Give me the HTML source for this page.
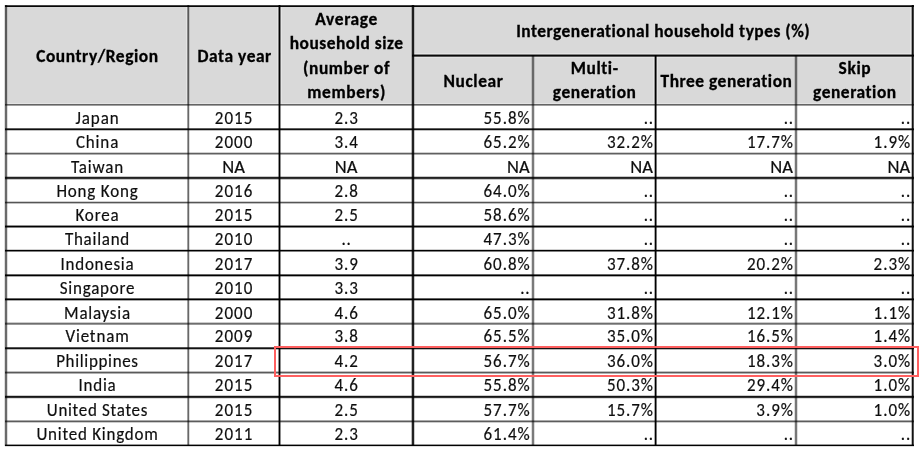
<!DOCTYPE html>
<html><head><meta charset="utf-8"><title>Intergenerational household types</title>
<style>
html,body{margin:0;padding:0;background:#fff;}
body{width:919px;height:453px;overflow:hidden;position:relative;}
svg{position:absolute;left:0;top:0;display:block;}
text{font-family:Carlito, 'Liberation Sans', sans-serif;font-size:18.5px;fill:#111;stroke:#111;stroke-width:0.2px;font-variant-ligatures:none;font-feature-settings:'liga' 0,'clig' 0;}
.b{font-weight:bold;fill:#000;stroke:#000;stroke-width:0.32px;}
.m{text-anchor:middle;}
.e{text-anchor:end;}
</style></head><body>
<svg width="919" height="453" viewBox="0 0 919 453">
<rect x="5" y="5" width="909" height="99" fill="#d9d9d9"/>

<rect x="7" y="7" width="1" height="96" fill="#fff" fill-opacity="0.3"/>
<rect x="186" y="7" width="1" height="96" fill="#fff" fill-opacity="0.3"/>
<rect x="277" y="7" width="1" height="96" fill="#fff" fill-opacity="0.3"/>
<rect x="281" y="7" width="1" height="96" fill="#fff" fill-opacity="0.3"/>
<rect x="411" y="7" width="1" height="96" fill="#fff" fill-opacity="0.3"/>
<rect x="414" y="7" width="1" height="96" fill="#fff" fill-opacity="0.3"/>
<rect x="653" y="57" width="1" height="46" fill="#fff" fill-opacity="0.3"/>
<rect x="657" y="57" width="1" height="46" fill="#fff" fill-opacity="0.3"/>
<rect x="910" y="7" width="1" height="96" fill="#fff" fill-opacity="0.3"/>
<rect x="414" y="53" width="497" height="1" fill="#fff" fill-opacity="0.3"/>
<rect x="414" y="57" width="497" height="1" fill="#fff" fill-opacity="0.3"/>
<rect x="7" y="103" width="904" height="1" fill="#fff" fill-opacity="0.3"/>
<rect x="5" y="5" width="909" height="1" fill-opacity="0.686"/>
<rect x="5" y="6" width="909" height="1" fill-opacity="0.969"/>
<rect x="412" y="54" width="502" height="1" fill-opacity="0.400"/>
<rect x="412" y="55" width="502" height="1" fill-opacity="0.961"/>
<rect x="412" y="56" width="502" height="1" fill-opacity="0.600"/>
<rect x="5" y="104" width="909" height="1" fill-opacity="0.608"/>
<rect x="5" y="105" width="909" height="1" fill-opacity="0.373"/>
<rect x="5" y="128" width="909" height="1" fill-opacity="0.624"/>
<rect x="5" y="129" width="909" height="1" fill-opacity="0.949"/>
<rect x="5" y="130" width="909" height="1" fill-opacity="0.247"/>
<rect x="5" y="152" width="909" height="1" fill-opacity="0.184"/>
<rect x="5" y="153" width="909" height="1" fill-opacity="0.624"/>
<rect x="5" y="154" width="909" height="1" fill-opacity="0.310"/>
<rect x="5" y="176" width="909" height="1" fill-opacity="0.216"/>
<rect x="5" y="177" width="909" height="1" fill-opacity="0.867"/>
<rect x="5" y="178" width="909" height="1" fill-opacity="0.800"/>
<rect x="5" y="179" width="909" height="1" fill-opacity="0.216"/>
<rect x="5" y="201" width="909" height="1" fill-opacity="0.184"/>
<rect x="5" y="202" width="909" height="1" fill-opacity="0.667"/>
<rect x="5" y="203" width="909" height="1" fill-opacity="0.247"/>
<rect x="5" y="225" width="909" height="1" fill-opacity="0.435"/>
<rect x="5" y="226" width="909" height="1" fill-opacity="1.000"/>
<rect x="5" y="227" width="909" height="1" fill-opacity="0.498"/>
<rect x="5" y="249" width="909" height="1" fill-opacity="0.184"/>
<rect x="5" y="250" width="909" height="1" fill-opacity="1.000"/>
<rect x="5" y="251" width="909" height="1" fill-opacity="0.498"/>
<rect x="5" y="274" width="909" height="1" fill-opacity="0.600"/>
<rect x="5" y="275" width="909" height="1" fill-opacity="1.000"/>
<rect x="5" y="276" width="909" height="1" fill-opacity="0.333"/>
<rect x="5" y="298" width="909" height="1" fill-opacity="0.600"/>
<rect x="5" y="299" width="909" height="1" fill-opacity="1.000"/>
<rect x="5" y="300" width="909" height="1" fill-opacity="0.333"/>
<rect x="5" y="322" width="909" height="1" fill-opacity="0.200"/>
<rect x="5" y="323" width="909" height="1" fill-opacity="0.569"/>
<rect x="5" y="324" width="909" height="1" fill-opacity="0.400"/>
<rect x="5" y="347" width="909" height="1" fill-opacity="0.667"/>
<rect x="5" y="348" width="909" height="1" fill-opacity="0.929"/>
<rect x="5" y="349" width="909" height="1" fill-opacity="0.267"/>
<rect x="5" y="371" width="909" height="1" fill-opacity="0.247"/>
<rect x="5" y="372" width="909" height="1" fill-opacity="0.647"/>
<rect x="5" y="373" width="909" height="1" fill-opacity="0.310"/>
<rect x="5" y="395" width="909" height="1" fill-opacity="0.200"/>
<rect x="5" y="396" width="909" height="1" fill-opacity="0.914"/>
<rect x="5" y="397" width="909" height="1" fill-opacity="0.800"/>
<rect x="5" y="398" width="909" height="1" fill-opacity="0.137"/>
<rect x="5" y="420" width="909" height="1" fill-opacity="0.333"/>
<rect x="5" y="421" width="909" height="1" fill-opacity="0.639"/>
<rect x="5" y="422" width="909" height="1" fill-opacity="0.200"/>
<rect x="5" y="444" width="909" height="1" fill-opacity="0.400"/>
<rect x="5" y="445" width="909" height="1" fill-opacity="1.000"/>
<rect x="5" y="446" width="909" height="1" fill-opacity="0.133"/>
<rect x="4" y="5" width="1" height="441" fill-opacity="0.133"/>
<rect x="5" y="5" width="1" height="441" fill-opacity="0.584"/>
<rect x="6" y="5" width="1" height="441" fill-opacity="0.584"/>
<rect x="7" y="5" width="1" height="441" fill-opacity="0.133"/>
<rect x="187" y="5" width="1" height="441" fill-opacity="0.373"/>
<rect x="188" y="5" width="1" height="441" fill-opacity="0.592"/>
<rect x="189" y="5" width="1" height="441" fill-opacity="0.133"/>
<rect x="278" y="5" width="1" height="441" fill-opacity="0.435"/>
<rect x="279" y="5" width="1" height="441" fill-opacity="1.000"/>
<rect x="280" y="5" width="1" height="441" fill-opacity="0.435"/>
<rect x="411" y="5" width="1" height="441" fill-opacity="0.267"/>
<rect x="412" y="5" width="1" height="441" fill-opacity="0.867"/>
<rect x="413" y="5" width="1" height="441" fill-opacity="0.867"/>
<rect x="414" y="5" width="1" height="441" fill-opacity="0.200"/>
<rect x="531" y="55" width="1" height="391" fill-opacity="0.133"/>
<rect x="532" y="55" width="1" height="391" fill-opacity="0.522"/>
<rect x="533" y="55" width="1" height="391" fill-opacity="0.522"/>
<rect x="534" y="55" width="1" height="391" fill-opacity="0.133"/>
<rect x="654" y="55" width="1" height="391" fill-opacity="0.333"/>
<rect x="655" y="55" width="1" height="391" fill-opacity="1.000"/>
<rect x="656" y="55" width="1" height="391" fill-opacity="0.533"/>
<rect x="794" y="55" width="1" height="391" fill-opacity="0.133"/>
<rect x="795" y="55" width="1" height="391" fill-opacity="0.533"/>
<rect x="796" y="55" width="1" height="391" fill-opacity="0.533"/>
<rect x="797" y="55" width="1" height="391" fill-opacity="0.133"/>
<rect x="911" y="5" width="1" height="441" fill-opacity="0.267"/>
<rect x="912" y="5" width="1" height="441" fill-opacity="0.933"/>
<rect x="913" y="5" width="1" height="441" fill-opacity="0.667"/>
<defs><filter id="soft" x="-5%" y="-20%" width="110%" height="140%"><feGaussianBlur stdDeviation="0.3"/></filter></defs>
<g filter="url(#soft)">
<text x="103.298" y="61.9" transform="scale(0.94,1)" class="b m" textLength="129.64" lengthAdjust="spacing">Country/Region</text>
<text x="249.362" y="61.7" transform="scale(0.94,1)" class="b m" textLength="78.46" lengthAdjust="spacing">Data year</text>
<text x="368.404" y="25.5" transform="scale(0.94,1)" class="b m" textLength="65.79" lengthAdjust="spacing">Average</text>
<text x="368.404" y="49.3" transform="scale(0.94,1)" class="b m" textLength="120.51" lengthAdjust="spacing">household size</text>
<text x="368.404" y="73.9" transform="scale(0.94,1)" class="b m" textLength="91.99" lengthAdjust="spacing">(number of</text>
<text x="368.404" y="98.3" transform="scale(0.94,1)" class="b m" textLength="83.15" lengthAdjust="spacing">members)</text>
<text x="705.319" y="37.1" transform="scale(0.94,1)" class="b m" textLength="312.26" lengthAdjust="spacing">Intergenerational household types (%)</text>
<text x="503.404" y="87.1" transform="scale(0.94,1)" class="b m" textLength="63.21" lengthAdjust="spacing">Nuclear</text>
<text x="632.34" y="74.3" transform="scale(0.94,1)" class="b m" textLength="50.29" lengthAdjust="spacing">Multi-</text>
<text x="632.34" y="98.2" transform="scale(0.94,1)" class="b m" textLength="88.39" lengthAdjust="spacing">generation</text>
<text x="772.553" y="87.3" transform="scale(0.94,1)" class="b m" textLength="139.74" lengthAdjust="spacing">Three generation</text>
<text x="909.149" y="74.2" transform="scale(0.94,1)" class="b m" textLength="34.16" lengthAdjust="spacing">Skip</text>
<text x="909.149" y="98.1" transform="scale(0.94,1)" class="b m" textLength="88.39" lengthAdjust="spacing">generation</text>
<text x="105.543" y="124.0" transform="scale(0.92,1)" class="m" textLength="46.8" lengthAdjust="spacing">Japan</text>
<text x="253.913" y="124.0" transform="scale(0.92,1)" class="m" textLength="40.78" lengthAdjust="spacing">2015</text>
<text x="376.304" y="124.0" transform="scale(0.92,1)" class="m" textLength="25.48" lengthAdjust="spacing">2.3</text>
<text x="575.652" y="124.0" transform="scale(0.92,1)" class="e" textLength="50.03" lengthAdjust="spacing">55.8%</text>
<text x="709.783" y="124.0" transform="scale(0.92,1)" class="e" textLength="10.15" lengthAdjust="spacing">..</text>
<text x="861.957" y="124.0" transform="scale(0.92,1)" class="e" textLength="10.15" lengthAdjust="spacing">..</text>
<text x="989.348" y="124.0" transform="scale(0.92,1)" class="e" textLength="10.15" lengthAdjust="spacing">..</text>
<text x="105.543" y="148.0" transform="scale(0.92,1)" class="m" textLength="46.11" lengthAdjust="spacing">China</text>
<text x="253.913" y="148.0" transform="scale(0.92,1)" class="m" textLength="40.78" lengthAdjust="spacing">2000</text>
<text x="376.304" y="148.0" transform="scale(0.92,1)" class="m" textLength="25.48" lengthAdjust="spacing">3.4</text>
<text x="575.652" y="148.0" transform="scale(0.92,1)" class="e" textLength="50.03" lengthAdjust="spacing">65.2%</text>
<text x="709.783" y="148.0" transform="scale(0.92,1)" class="e" textLength="50.03" lengthAdjust="spacing">32.2%</text>
<text x="861.957" y="148.0" transform="scale(0.92,1)" class="e" textLength="50.03" lengthAdjust="spacing">17.7%</text>
<text x="989.348" y="148.0" transform="scale(0.92,1)" class="e" textLength="39.85" lengthAdjust="spacing">1.9%</text>
<text x="105.543" y="173.0" transform="scale(0.92,1)" class="m" textLength="56.83" lengthAdjust="spacing">Taiwan</text>
<text x="233.6" y="173.0" class="m" textLength="22.66" lengthAdjust="spacingAndGlyphs">NA</text>
<text x="346.2" y="173.0" class="m" textLength="22.66" lengthAdjust="spacingAndGlyphs">NA</text>
<text x="529.6" y="173.0" class="e" textLength="22.66" lengthAdjust="spacingAndGlyphs">NA</text>
<text x="653.0" y="173.0" class="e" textLength="22.66" lengthAdjust="spacingAndGlyphs">NA</text>
<text x="793.0" y="173.0" class="e" textLength="22.66" lengthAdjust="spacingAndGlyphs">NA</text>
<text x="910.2" y="173.0" class="e" textLength="22.66" lengthAdjust="spacingAndGlyphs">NA</text>
<text x="105.543" y="197.0" transform="scale(0.92,1)" class="m" textLength="88.43" lengthAdjust="spacing">Hong Kong</text>
<text x="253.913" y="197.0" transform="scale(0.92,1)" class="m" textLength="40.78" lengthAdjust="spacing">2016</text>
<text x="376.304" y="197.0" transform="scale(0.92,1)" class="m" textLength="25.48" lengthAdjust="spacing">2.8</text>
<text x="575.652" y="197.0" transform="scale(0.92,1)" class="e" textLength="50.03" lengthAdjust="spacing">64.0%</text>
<text x="709.783" y="197.0" transform="scale(0.92,1)" class="e" textLength="10.15" lengthAdjust="spacing">..</text>
<text x="861.957" y="197.0" transform="scale(0.92,1)" class="e" textLength="10.15" lengthAdjust="spacing">..</text>
<text x="989.348" y="197.0" transform="scale(0.92,1)" class="e" textLength="10.15" lengthAdjust="spacing">..</text>
<text x="105.543" y="221.0" transform="scale(0.92,1)" class="m" textLength="47.08" lengthAdjust="spacing">Korea</text>
<text x="253.913" y="221.0" transform="scale(0.92,1)" class="m" textLength="40.78" lengthAdjust="spacing">2015</text>
<text x="376.304" y="221.0" transform="scale(0.92,1)" class="m" textLength="25.48" lengthAdjust="spacing">2.5</text>
<text x="575.652" y="221.0" transform="scale(0.92,1)" class="e" textLength="50.03" lengthAdjust="spacing">58.6%</text>
<text x="709.783" y="221.0" transform="scale(0.92,1)" class="e" textLength="10.15" lengthAdjust="spacing">..</text>
<text x="861.957" y="221.0" transform="scale(0.92,1)" class="e" textLength="10.15" lengthAdjust="spacing">..</text>
<text x="989.348" y="221.0" transform="scale(0.92,1)" class="e" textLength="10.15" lengthAdjust="spacing">..</text>
<text x="105.543" y="245.0" transform="scale(0.92,1)" class="m" textLength="69.99" lengthAdjust="spacing">Thailand</text>
<text x="253.913" y="245.0" transform="scale(0.92,1)" class="m" textLength="40.78" lengthAdjust="spacing">2010</text>
<text x="376.304" y="245.0" transform="scale(0.92,1)" class="m" textLength="10.15" lengthAdjust="spacing">..</text>
<text x="575.652" y="245.0" transform="scale(0.92,1)" class="e" textLength="50.03" lengthAdjust="spacing">47.3%</text>
<text x="709.783" y="245.0" transform="scale(0.92,1)" class="e" textLength="10.15" lengthAdjust="spacing">..</text>
<text x="861.957" y="245.0" transform="scale(0.92,1)" class="e" textLength="10.15" lengthAdjust="spacing">..</text>
<text x="989.348" y="245.0" transform="scale(0.92,1)" class="e" textLength="10.15" lengthAdjust="spacing">..</text>
<text x="105.543" y="270.0" transform="scale(0.92,1)" class="m" textLength="79.48" lengthAdjust="spacing">Indonesia</text>
<text x="253.913" y="270.0" transform="scale(0.92,1)" class="m" textLength="40.78" lengthAdjust="spacing">2017</text>
<text x="376.304" y="270.0" transform="scale(0.92,1)" class="m" textLength="25.48" lengthAdjust="spacing">3.9</text>
<text x="575.652" y="270.0" transform="scale(0.92,1)" class="e" textLength="50.03" lengthAdjust="spacing">60.8%</text>
<text x="709.783" y="270.0" transform="scale(0.92,1)" class="e" textLength="50.03" lengthAdjust="spacing">37.8%</text>
<text x="861.957" y="270.0" transform="scale(0.92,1)" class="e" textLength="50.03" lengthAdjust="spacing">20.2%</text>
<text x="989.348" y="270.0" transform="scale(0.92,1)" class="e" textLength="39.85" lengthAdjust="spacing">2.3%</text>
<text x="105.543" y="294.0" transform="scale(0.92,1)" class="m" textLength="81.07" lengthAdjust="spacing">Singapore</text>
<text x="253.913" y="294.0" transform="scale(0.92,1)" class="m" textLength="40.78" lengthAdjust="spacing">2010</text>
<text x="376.304" y="294.0" transform="scale(0.92,1)" class="m" textLength="25.48" lengthAdjust="spacing">3.3</text>
<text x="575.652" y="294.0" transform="scale(0.92,1)" class="e" textLength="10.15" lengthAdjust="spacing">..</text>
<text x="709.783" y="294.0" transform="scale(0.92,1)" class="e" textLength="10.15" lengthAdjust="spacing">..</text>
<text x="861.957" y="294.0" transform="scale(0.92,1)" class="e" textLength="10.15" lengthAdjust="spacing">..</text>
<text x="989.348" y="294.0" transform="scale(0.92,1)" class="e" textLength="10.15" lengthAdjust="spacing">..</text>
<text x="105.543" y="319.0" transform="scale(0.92,1)" class="m" textLength="71.74" lengthAdjust="spacing">Malaysia</text>
<text x="253.913" y="319.0" transform="scale(0.92,1)" class="m" textLength="40.78" lengthAdjust="spacing">2000</text>
<text x="376.304" y="319.0" transform="scale(0.92,1)" class="m" textLength="25.48" lengthAdjust="spacing">4.6</text>
<text x="575.652" y="319.0" transform="scale(0.92,1)" class="e" textLength="50.03" lengthAdjust="spacing">65.0%</text>
<text x="709.783" y="319.0" transform="scale(0.92,1)" class="e" textLength="50.03" lengthAdjust="spacing">31.8%</text>
<text x="861.957" y="319.0" transform="scale(0.92,1)" class="e" textLength="50.03" lengthAdjust="spacing">12.1%</text>
<text x="989.348" y="319.0" transform="scale(0.92,1)" class="e" textLength="39.85" lengthAdjust="spacing">1.1%</text>
<text x="105.543" y="342.0" transform="scale(0.92,1)" class="m" textLength="68.92" lengthAdjust="spacing">Vietnam</text>
<text x="253.913" y="342.0" transform="scale(0.92,1)" class="m" textLength="40.78" lengthAdjust="spacing">2009</text>
<text x="376.304" y="342.0" transform="scale(0.92,1)" class="m" textLength="25.48" lengthAdjust="spacing">3.8</text>
<text x="575.652" y="342.0" transform="scale(0.92,1)" class="e" textLength="50.03" lengthAdjust="spacing">65.5%</text>
<text x="709.783" y="342.0" transform="scale(0.92,1)" class="e" textLength="50.03" lengthAdjust="spacing">35.0%</text>
<text x="861.957" y="342.0" transform="scale(0.92,1)" class="e" textLength="50.03" lengthAdjust="spacing">16.5%</text>
<text x="989.348" y="342.0" transform="scale(0.92,1)" class="e" textLength="39.85" lengthAdjust="spacing">1.4%</text>
<text x="105.543" y="367.0" transform="scale(0.92,1)" class="m" textLength="88.98" lengthAdjust="spacing">Philippines</text>
<text x="253.913" y="367.0" transform="scale(0.92,1)" class="m" textLength="40.78" lengthAdjust="spacing">2017</text>
<text x="376.304" y="367.0" transform="scale(0.92,1)" class="m" textLength="25.48" lengthAdjust="spacing">4.2</text>
<text x="575.652" y="367.0" transform="scale(0.92,1)" class="e" textLength="50.03" lengthAdjust="spacing">56.7%</text>
<text x="709.783" y="367.0" transform="scale(0.92,1)" class="e" textLength="50.03" lengthAdjust="spacing">36.0%</text>
<text x="861.957" y="367.0" transform="scale(0.92,1)" class="e" textLength="50.03" lengthAdjust="spacing">18.3%</text>
<text x="989.348" y="367.0" transform="scale(0.92,1)" class="e" textLength="39.85" lengthAdjust="spacing">3.0%</text>
<text x="105.543" y="391.0" transform="scale(0.92,1)" class="m" textLength="40.46" lengthAdjust="spacing">India</text>
<text x="253.913" y="391.0" transform="scale(0.92,1)" class="m" textLength="40.78" lengthAdjust="spacing">2015</text>
<text x="376.304" y="391.0" transform="scale(0.92,1)" class="m" textLength="25.48" lengthAdjust="spacing">4.6</text>
<text x="575.652" y="391.0" transform="scale(0.92,1)" class="e" textLength="50.03" lengthAdjust="spacing">55.8%</text>
<text x="709.783" y="391.0" transform="scale(0.92,1)" class="e" textLength="50.03" lengthAdjust="spacing">50.3%</text>
<text x="861.957" y="391.0" transform="scale(0.92,1)" class="e" textLength="50.03" lengthAdjust="spacing">29.4%</text>
<text x="989.348" y="391.0" transform="scale(0.92,1)" class="e" textLength="39.85" lengthAdjust="spacing">1.0%</text>
<text x="105.543" y="416.0" transform="scale(0.92,1)" class="m" textLength="109.29" lengthAdjust="spacing">United States</text>
<text x="253.913" y="416.0" transform="scale(0.92,1)" class="m" textLength="40.78" lengthAdjust="spacing">2015</text>
<text x="376.304" y="416.0" transform="scale(0.92,1)" class="m" textLength="25.48" lengthAdjust="spacing">2.5</text>
<text x="575.652" y="416.0" transform="scale(0.92,1)" class="e" textLength="50.03" lengthAdjust="spacing">57.7%</text>
<text x="709.783" y="416.0" transform="scale(0.92,1)" class="e" textLength="50.03" lengthAdjust="spacing">15.7%</text>
<text x="861.957" y="416.0" transform="scale(0.92,1)" class="e" textLength="39.85" lengthAdjust="spacing">3.9%</text>
<text x="989.348" y="416.0" transform="scale(0.92,1)" class="e" textLength="39.85" lengthAdjust="spacing">1.0%</text>
<text x="105.543" y="440.0" transform="scale(0.92,1)" class="m" textLength="131.86" lengthAdjust="spacing">United Kingdom</text>
<text x="253.913" y="440.0" transform="scale(0.92,1)" class="m" textLength="40.78" lengthAdjust="spacing">2011</text>
<text x="376.304" y="440.0" transform="scale(0.92,1)" class="m" textLength="25.48" lengthAdjust="spacing">2.3</text>
<text x="575.652" y="440.0" transform="scale(0.92,1)" class="e" textLength="50.03" lengthAdjust="spacing">61.4%</text>
<text x="709.783" y="440.0" transform="scale(0.92,1)" class="e" textLength="10.15" lengthAdjust="spacing">..</text>
<text x="861.957" y="440.0" transform="scale(0.92,1)" class="e" textLength="10.15" lengthAdjust="spacing">..</text>
<text x="989.348" y="440.0" transform="scale(0.92,1)" class="e" textLength="10.15" lengthAdjust="spacing">..</text>
</g>
<rect x="275" y="347" width="643" height="29" fill="none" stroke="#ff6060" stroke-width="2"/>
</svg>
</body></html>
